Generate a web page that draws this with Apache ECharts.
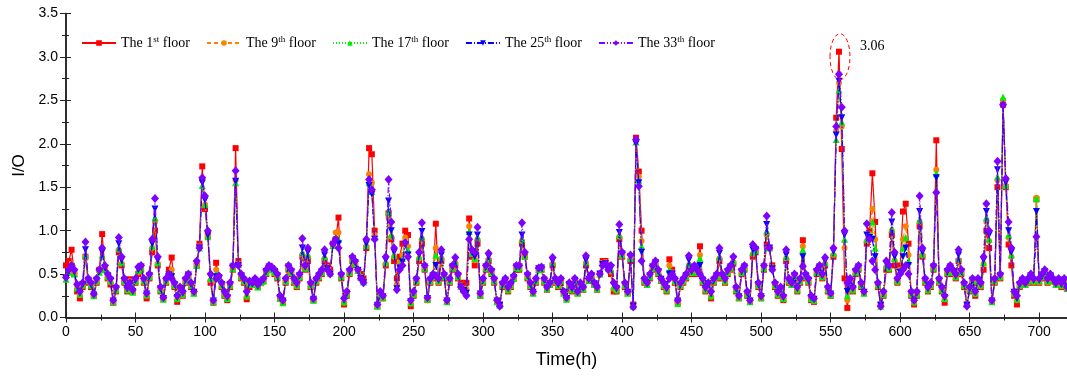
<!DOCTYPE html>
<html><head><meta charset="utf-8">
<script src="https://cdn.jsdelivr.net/npm/echarts@6/dist/echarts.min.js"></script>
<style>html,body{margin:0;padding:0;background:#fff}#c{width:1067px;height:376px}</style>
</head><body><div id="c"></div>
<script>
// sampling step of the time series (hours)
const STEP_H = 2;
const xTicks = {min: 0, max: 720, interval: 50};
const yTicks = {min: 0, max: 3.5, interval: 0.5};
const seriesNames = ['The 1st floor','The 9th floor','The 17th floor','The 25th floor','The 33th floor'];

const floor1 = [
0.60,0.65,0.78,0.50,0.30,0.22,0.35,0.70,0.40,0.35,
0.25,0.40,0.55,0.96,0.55,0.45,0.38,0.17,0.30,0.75,
0.60,0.40,0.30,0.44,0.30,0.40,0.50,0.55,0.40,0.22,
0.45,0.75,1.00,0.60,0.30,0.22,0.40,0.55,0.69,0.35,
0.18,0.30,0.25,0.40,0.48,0.35,0.28,0.60,0.85,1.74,
1.25,0.94,0.40,0.17,0.63,0.45,0.35,0.25,0.20,0.35,
0.55,1.95,0.65,0.45,0.40,0.21,0.35,0.38,0.40,0.35,
0.40,0.42,0.50,0.55,0.55,0.50,0.45,0.22,0.18,0.40,
0.55,0.50,0.40,0.35,0.45,0.70,0.55,0.65,0.35,0.20,
0.40,0.45,0.50,0.65,0.60,0.55,0.85,0.90,1.15,0.45,
0.15,0.25,0.50,0.65,0.60,0.55,0.50,0.45,0.80,1.95,
1.88,1.00,0.13,0.25,0.22,0.60,1.20,0.90,0.65,0.45,
0.70,0.85,1.00,0.95,0.13,0.25,0.40,0.65,0.85,0.55,
0.20,0.40,0.45,1.08,0.40,0.65,0.45,0.18,0.40,0.55,
0.60,0.45,0.40,0.35,0.40,1.14,0.70,0.60,0.85,0.25,
0.40,0.55,0.65,0.50,0.40,0.18,0.15,0.35,0.40,0.30,
0.35,0.45,0.55,0.55,0.85,0.70,0.45,0.35,0.28,0.40,
0.55,0.55,0.40,0.32,0.38,0.60,0.40,0.35,0.40,0.28,
0.22,0.35,0.30,0.40,0.28,0.35,0.32,0.60,0.42,0.45,
0.38,0.32,0.50,0.65,0.65,0.60,0.50,0.30,0.30,0.90,
0.70,0.35,0.28,0.65,0.15,2.07,1.68,1.00,0.40,0.38,
0.45,0.55,0.60,0.50,0.42,0.35,0.30,0.67,0.55,0.40,
0.17,0.35,0.40,0.45,0.55,0.50,0.55,0.50,0.82,0.40,
0.30,0.38,0.22,0.40,0.45,0.65,0.45,0.40,0.50,0.55,
0.62,0.30,0.22,0.50,0.55,0.25,0.18,0.70,0.75,0.35,
0.22,0.55,0.84,0.80,0.60,0.35,0.25,0.30,0.20,0.65,
0.40,0.38,0.45,0.30,0.40,0.89,0.45,0.40,0.20,0.18,
0.50,0.55,0.45,0.60,0.30,0.25,0.70,2.30,3.06,1.94,
0.45,0.11,0.40,0.30,0.50,0.55,0.35,0.28,0.85,1.00,
1.66,1.10,0.35,0.15,0.25,0.55,0.55,0.95,0.60,0.40,
0.60,1.22,1.31,0.85,0.25,0.15,0.25,1.05,0.70,0.40,
0.30,0.35,0.55,2.04,0.40,0.30,0.17,0.50,0.55,0.50,
0.45,0.65,0.50,0.35,0.15,0.30,0.40,0.25,0.40,0.35,
0.55,1.00,0.80,0.18,0.40,1.50,0.45,2.45,1.50,0.84,
0.60,0.25,0.15,0.35,0.40,0.38,0.40,0.45,0.40,1.36,
0.40,0.45,0.50,0.40,0.45,0.42,0.38,0.40,0.35,0.40,
0.33];

const floor9 = [
0.47,0.55,0.62,0.51,0.34,0.26,0.37,0.70,0.42,0.37,
0.25,0.41,0.53,0.80,0.56,0.46,0.41,0.18,0.31,0.78,
0.62,0.41,0.31,0.42,0.29,0.41,0.52,0.56,0.41,0.25,
0.46,0.80,1.10,0.62,0.31,0.21,0.41,0.50,0.55,0.36,
0.21,0.31,0.26,0.41,0.48,0.36,0.28,0.60,0.82,1.58,
1.30,0.94,0.43,0.18,0.55,0.45,0.36,0.26,0.21,0.36,
0.55,1.58,0.62,0.46,0.41,0.24,0.37,0.38,0.41,0.35,
0.40,0.41,0.51,0.56,0.55,0.51,0.46,0.21,0.17,0.41,
0.56,0.51,0.41,0.36,0.46,0.72,0.56,0.70,0.36,0.20,
0.41,0.46,0.51,0.68,0.58,0.52,0.85,0.98,0.98,0.46,
0.17,0.26,0.51,0.66,0.61,0.54,0.47,0.42,0.82,1.65,
1.55,0.95,0.13,0.26,0.22,0.62,1.15,0.93,0.70,0.38,
0.63,0.72,0.92,0.82,0.16,0.26,0.41,0.68,0.90,0.56,
0.20,0.41,0.46,0.80,0.41,0.68,0.46,0.18,0.41,0.56,
0.63,0.46,0.37,0.33,0.33,1.05,0.73,0.66,0.90,0.26,
0.41,0.56,0.67,0.51,0.41,0.18,0.14,0.36,0.41,0.31,
0.36,0.45,0.56,0.56,0.88,0.70,0.46,0.36,0.28,0.41,
0.55,0.55,0.41,0.33,0.38,0.62,0.41,0.36,0.41,0.28,
0.21,0.36,0.31,0.41,0.28,0.36,0.33,0.63,0.43,0.46,
0.38,0.33,0.50,0.63,0.64,0.58,0.53,0.33,0.31,0.93,
0.71,0.36,0.28,0.67,0.14,2.04,1.62,0.88,0.41,0.38,
0.46,0.56,0.61,0.51,0.43,0.36,0.31,0.60,0.52,0.41,
0.17,0.36,0.41,0.46,0.60,0.51,0.56,0.51,0.72,0.41,
0.31,0.38,0.24,0.41,0.46,0.68,0.46,0.41,0.51,0.56,
0.64,0.31,0.23,0.51,0.56,0.26,0.18,0.73,0.76,0.36,
0.23,0.56,0.95,0.80,0.58,0.36,0.26,0.31,0.21,0.68,
0.41,0.38,0.46,0.31,0.41,0.82,0.46,0.41,0.21,0.19,
0.51,0.56,0.46,0.62,0.31,0.26,0.72,2.15,2.70,2.20,
0.80,0.20,0.41,0.31,0.51,0.56,0.36,0.28,0.88,0.96,
1.25,0.90,0.36,0.14,0.26,0.58,0.56,1.00,0.66,0.41,
0.55,0.90,1.05,0.72,0.26,0.17,0.26,1.10,0.72,0.41,
0.31,0.36,0.56,1.70,0.41,0.31,0.21,0.51,0.56,0.51,
0.46,0.66,0.51,0.36,0.15,0.31,0.41,0.27,0.41,0.36,
0.62,1.10,0.88,0.18,0.41,1.58,0.46,2.50,1.52,0.92,
0.70,0.27,0.20,0.36,0.41,0.38,0.41,0.46,0.41,1.38,
0.41,0.46,0.51,0.41,0.46,0.41,0.38,0.41,0.36,0.41,
0.33];

const floor17 = [
0.44,0.52,0.57,0.50,0.34,0.27,0.37,0.72,0.42,0.37,
0.25,0.42,0.52,0.72,0.55,0.47,0.42,0.18,0.32,0.80,
0.63,0.42,0.32,0.40,0.29,0.42,0.54,0.57,0.42,0.26,
0.47,0.82,1.15,0.63,0.32,0.21,0.42,0.48,0.50,0.37,
0.22,0.32,0.27,0.42,0.48,0.37,0.28,0.60,0.80,1.52,
1.30,0.93,0.45,0.18,0.50,0.45,0.37,0.27,0.22,0.37,
0.56,1.55,0.61,0.47,0.42,0.25,0.39,0.38,0.42,0.35,
0.40,0.42,0.52,0.57,0.55,0.52,0.47,0.22,0.17,0.42,
0.57,0.52,0.42,0.37,0.47,0.75,0.57,0.72,0.37,0.20,
0.42,0.47,0.52,0.70,0.57,0.51,0.83,0.92,0.90,0.47,
0.18,0.27,0.52,0.67,0.62,0.54,0.46,0.41,0.83,1.55,
1.45,0.92,0.13,0.27,0.23,0.64,1.22,0.95,0.72,0.35,
0.60,0.68,0.88,0.78,0.17,0.27,0.42,0.70,0.93,0.57,
0.21,0.42,0.47,0.72,0.42,0.70,0.47,0.18,0.42,0.57,
0.64,0.47,0.36,0.32,0.30,0.99,0.74,0.68,0.92,0.26,
0.42,0.57,0.68,0.52,0.42,0.18,0.14,0.37,0.42,0.32,
0.37,0.45,0.57,0.57,0.90,0.71,0.47,0.37,0.28,0.42,
0.55,0.56,0.42,0.33,0.38,0.63,0.42,0.37,0.42,0.28,
0.21,0.37,0.32,0.42,0.28,0.37,0.33,0.64,0.43,0.47,
0.38,0.33,0.50,0.62,0.63,0.57,0.55,0.35,0.32,0.95,
0.72,0.37,0.28,0.68,0.13,2.02,1.58,0.82,0.42,0.38,
0.47,0.57,0.62,0.52,0.43,0.37,0.32,0.55,0.51,0.42,
0.16,0.37,0.42,0.47,0.62,0.52,0.57,0.52,0.68,0.42,
0.32,0.38,0.25,0.42,0.47,0.70,0.47,0.42,0.52,0.57,
0.65,0.32,0.23,0.52,0.57,0.27,0.18,0.75,0.77,0.37,
0.23,0.57,1.00,0.80,0.57,0.37,0.27,0.32,0.22,0.70,
0.42,0.38,0.47,0.32,0.42,0.78,0.47,0.42,0.22,0.20,
0.52,0.57,0.47,0.63,0.32,0.26,0.74,2.05,2.62,2.25,
0.90,0.25,0.42,0.32,0.52,0.57,0.37,0.28,0.90,0.94,
1.10,0.80,0.37,0.13,0.27,0.60,0.57,1.02,0.68,0.42,
0.53,0.80,0.92,0.65,0.27,0.18,0.27,1.12,0.73,0.42,
0.32,0.37,0.57,1.66,0.42,0.32,0.22,0.52,0.57,0.52,
0.47,0.68,0.52,0.37,0.15,0.32,0.42,0.28,0.42,0.37,
0.63,1.15,0.90,0.18,0.42,1.62,0.47,2.54,1.52,0.95,
0.72,0.28,0.21,0.37,0.42,0.38,0.42,0.47,0.42,1.37,
0.42,0.47,0.52,0.42,0.47,0.42,0.38,0.42,0.37,0.42,
0.34];

const floor25 = [
0.45,0.53,0.58,0.52,0.36,0.28,0.38,0.78,0.43,0.38,
0.26,0.43,0.53,0.75,0.57,0.48,0.43,0.19,0.33,0.85,
0.66,0.43,0.33,0.39,0.30,0.43,0.55,0.58,0.43,0.27,
0.48,0.85,1.25,0.66,0.33,0.22,0.43,0.49,0.47,0.38,
0.23,0.33,0.28,0.43,0.49,0.38,0.29,0.62,0.80,1.55,
1.35,0.95,0.47,0.19,0.47,0.46,0.38,0.28,0.23,0.38,
0.58,1.57,0.60,0.48,0.43,0.27,0.40,0.39,0.43,0.36,
0.41,0.43,0.53,0.58,0.56,0.53,0.48,0.23,0.19,0.43,
0.58,0.53,0.43,0.38,0.48,0.80,0.58,0.75,0.38,0.21,
0.43,0.48,0.53,0.72,0.56,0.50,0.83,0.88,0.85,0.48,
0.20,0.28,0.53,0.68,0.63,0.54,0.45,0.40,0.85,1.52,
1.42,0.90,0.14,0.28,0.24,0.66,1.34,1.00,0.75,0.33,
0.57,0.64,0.84,0.72,0.18,0.28,0.43,0.72,0.99,0.58,
0.22,0.43,0.48,0.60,0.43,0.72,0.48,0.19,0.43,0.58,
0.66,0.48,0.35,0.31,0.28,0.95,0.75,0.70,0.95,0.27,
0.43,0.58,0.70,0.53,0.43,0.19,0.14,0.38,0.43,0.33,
0.38,0.46,0.58,0.58,0.95,0.72,0.48,0.38,0.29,0.43,
0.56,0.57,0.43,0.34,0.39,0.65,0.43,0.38,0.43,0.29,
0.22,0.38,0.33,0.43,0.29,0.38,0.34,0.66,0.44,0.48,
0.39,0.34,0.50,0.61,0.62,0.56,0.57,0.37,0.33,0.98,
0.73,0.38,0.29,0.70,0.13,2.00,1.55,0.75,0.43,0.39,
0.48,0.58,0.63,0.53,0.44,0.38,0.33,0.50,0.50,0.43,
0.19,0.38,0.43,0.48,0.66,0.53,0.58,0.53,0.60,0.43,
0.33,0.39,0.27,0.43,0.48,0.74,0.48,0.43,0.53,0.58,
0.67,0.33,0.24,0.53,0.58,0.28,0.19,0.78,0.78,0.38,
0.24,0.58,1.07,0.80,0.56,0.38,0.28,0.33,0.23,0.72,
0.43,0.39,0.48,0.33,0.43,0.70,0.48,0.43,0.23,0.21,
0.53,0.58,0.48,0.65,0.33,0.27,0.76,2.10,2.72,2.30,
0.95,0.30,0.43,0.33,0.53,0.58,0.38,0.29,0.95,0.92,
0.90,0.70,0.38,0.14,0.28,0.62,0.58,1.10,0.70,0.43,
0.52,0.70,0.80,0.60,0.28,0.19,0.28,1.22,0.75,0.43,
0.33,0.38,0.58,1.61,0.43,0.33,0.23,0.53,0.58,0.53,
0.48,0.72,0.53,0.38,0.14,0.33,0.43,0.29,0.43,0.38,
0.66,1.22,0.95,0.19,0.43,1.70,0.48,2.42,1.55,1.00,
0.75,0.29,0.22,0.38,0.43,0.39,0.43,0.48,0.43,1.22,
0.43,0.48,0.53,0.43,0.48,0.43,0.39,0.43,0.38,0.43,
0.34];

const floor33 = [
0.46,0.55,0.60,0.55,0.38,0.30,0.40,0.87,0.45,0.40,
0.27,0.45,0.55,0.80,0.60,0.50,0.45,0.20,0.35,0.92,
0.70,0.45,0.35,0.40,0.32,0.45,0.58,0.60,0.45,0.28,
0.50,0.90,1.37,0.70,0.35,0.23,0.45,0.50,0.45,0.40,
0.25,0.35,0.30,0.45,0.50,0.40,0.30,0.65,0.80,1.61,
1.40,1.00,0.50,0.20,0.45,0.48,0.40,0.30,0.25,0.40,
0.60,1.69,0.60,0.50,0.45,0.30,0.42,0.40,0.45,0.38,
0.42,0.45,0.55,0.60,0.58,0.55,0.50,0.25,0.20,0.45,
0.60,0.55,0.45,0.40,0.50,0.91,0.60,0.80,0.40,0.22,
0.45,0.50,0.55,0.78,0.55,0.50,0.85,0.90,0.80,0.50,
0.22,0.30,0.55,0.70,0.65,0.55,0.45,0.40,0.90,1.59,
1.47,0.90,0.15,0.30,0.25,0.70,1.59,1.10,0.80,0.32,
0.55,0.60,0.86,0.70,0.20,0.30,0.45,0.75,1.09,0.60,
0.23,0.45,0.50,0.48,0.45,0.78,0.50,0.20,0.45,0.60,
0.69,0.50,0.35,0.30,0.25,0.90,0.78,0.75,1.04,0.28,
0.45,0.60,0.74,0.55,0.45,0.20,0.13,0.40,0.45,0.35,
0.40,0.48,0.60,0.60,1.09,0.75,0.50,0.40,0.30,0.45,
0.57,0.58,0.45,0.35,0.40,0.69,0.45,0.40,0.45,0.30,
0.23,0.40,0.35,0.45,0.30,0.40,0.35,0.71,0.45,0.50,
0.40,0.35,0.50,0.60,0.62,0.55,0.60,0.40,0.35,1.07,
0.75,0.40,0.30,0.72,0.12,2.05,1.51,0.65,0.45,0.40,
0.50,0.60,0.65,0.55,0.45,0.40,0.35,0.45,0.50,0.45,
0.20,0.40,0.45,0.50,0.71,0.55,0.60,0.55,0.50,0.45,
0.35,0.40,0.30,0.45,0.50,0.80,0.50,0.45,0.55,0.60,
0.70,0.35,0.25,0.55,0.60,0.30,0.20,0.84,0.80,0.40,
0.25,0.60,1.17,0.80,0.55,0.40,0.30,0.35,0.25,0.78,
0.45,0.40,0.50,0.35,0.45,0.59,0.50,0.45,0.25,0.22,
0.55,0.60,0.50,0.69,0.35,0.28,0.80,2.20,2.80,2.42,
1.00,0.40,0.45,0.35,0.55,0.60,0.40,0.30,1.08,0.90,
0.65,0.55,0.40,0.13,0.30,0.65,0.60,1.21,0.75,0.45,
0.50,0.55,0.60,0.50,0.30,0.20,0.30,1.40,0.80,0.45,
0.35,0.40,0.60,1.44,0.45,0.35,0.25,0.55,0.60,0.55,
0.50,0.78,0.55,0.40,0.13,0.35,0.45,0.30,0.45,0.40,
0.70,1.31,1.00,0.20,0.45,1.80,0.50,2.45,1.60,1.10,
0.80,0.30,0.25,0.40,0.45,0.40,0.45,0.50,0.45,0.93,
0.45,0.50,0.55,0.45,0.50,0.45,0.40,0.45,0.40,0.45,
0.35];

// annotated peak (1st floor)
const peakHour = 556;
const peakLabel = '3.06';

const allValues = [floor1, floor9, floor17, floor25, floor33];
const colors = ['#ff0000', '#ff8000', '#00ee00', '#0000ff', '#8000ff'];
const symbols = ['rect', 'circle', 'triangle', 'triangle', 'diamond'];
const symRot = [0, 0, 0, 180, 0];
const symSizes = [6, 6, 7, 7, [8, 9]];
const dashes = ['solid', [4, 3], [1, 2], [6, 2, 1, 2], [6, 2, 1, 2, 1, 2]];
const supMap = {'The 1st floor':['The 1','st'],'The 9th floor':['The 9','th'],'The 17th floor':['The 17','th'],'The 25th floor':['The 25','th'],'The 33th floor':['The 33','th']};

const chart = echarts.init(document.getElementById('c'), null, {renderer: 'canvas'});
const axisFont = {fontFamily: "'Liberation Sans', Arial, sans-serif", color: '#000'};
const lineCol = '#222';
const serif = "'Liberation Serif', 'Times New Roman', serif";

const series = seriesNames.map((name, k) => ({
  name, type: 'line',
  data: allValues[k].map((v, i) => [i * STEP_H, v]),
  symbol: symbols[k], symbolRotate: symRot[k], symbolSize: symSizes[k],
  showAllSymbol: true,
  itemStyle: {color: colors[k]},
  lineStyle: {color: colors[k], width: 1.2, type: dashes[k]},
  z: 2 + k,
  emphasis: {disabled: true}
}));

chart.setOption({
  animation: false,
  backgroundColor: '#fff',
  grid: {left: 66, top: 13.5, width: 1002, height: 304},
  legend: {
    left: 76, top: 30, itemWidth: 34, itemHeight: 7, itemGap: 16,
    data: seriesNames.map((n, k) => ({name: n, itemStyle: {color: colors[k]}})),
    formatter: n => `{a|${supMap[n][0]}}{b|${supMap[n][1]}}{a| floor}`,
    textStyle: {
      color: '#000', fontFamily: serif, fontSize: 14,
      rich: {
        a: {fontSize: 14, lineHeight: 16, fontFamily: serif, color: '#000'},
        b: {fontSize: 9, lineHeight: 10, verticalAlign: 'top', fontFamily: serif, color: '#000'}
      }
    }
  },
  xAxis: [{
    type: 'value', ...xTicks, position: 'bottom',
    name: 'Time(h)', nameLocation: 'middle', nameGap: 34,
    nameTextStyle: {...axisFont, fontSize: 18},
    axisLine: {lineStyle: {color: lineCol, width: 1.5}},
    axisTick: {inside: true, length: 5, lineStyle: {color: lineCol}},
    minorTick: {show: true, splitNumber: 2, length: 3, lineStyle: {color: lineCol}},
    axisLabel: {...axisFont, fontSize: 14, margin: 8, showMaxLabel: false},
    splitLine: {show: false}
  }, {
    type: 'value', ...xTicks, position: 'top',
    axisLine: {lineStyle: {color: lineCol, width: 1.5}},
    axisTick: {inside: true, length: 5, lineStyle: {color: lineCol}},
    minorTick: {show: true, splitNumber: 2, length: 3, lineStyle: {color: lineCol}},
    axisLabel: {show: false}, splitLine: {show: false}
  }],
  yAxis: [{
    type: 'value', ...yTicks, position: 'left',
    name: 'I/O', nameLocation: 'middle', nameGap: 38, nameRotate: 90,
    nameTextStyle: {...axisFont, fontSize: 17},
    axisLine: {show: true, lineStyle: {color: lineCol, width: 1.5}},
    axisTick: {show: true, inside: true, length: 5, lineStyle: {color: lineCol}},
    minorTick: {show: true, splitNumber: 2, length: 3, lineStyle: {color: lineCol}},
    axisLabel: {...axisFont, fontSize: 14, margin: 8, formatter: v => v.toFixed(1)},
    splitLine: {show: false}
  }, {
    type: 'value', ...yTicks, position: 'right',
    axisLine: {show: true, lineStyle: {color: lineCol, width: 1.5}},
    axisTick: {show: true, inside: true, length: 6, lineStyle: {color: lineCol}},
    minorTick: {show: true, splitNumber: 2, length: 4, lineStyle: {color: lineCol}},
    axisLabel: {show: false}, splitLine: {show: false}
  }],
  series
});

// annotation ellipse around the 1st-floor peak
const peakVal = floor1[peakHour / STEP_H];
const p = chart.convertToPixel({xAxisIndex: 0, yAxisIndex: 0}, [peakHour, peakVal]);
chart.setOption({
  graphic: [{
    type: 'ellipse', shape: {cx: p[0] + 1, cy: p[1] + 5, rx: 10, ry: 23},
    style: {fill: 'none', stroke: '#ff0000', lineWidth: 1, lineDash: [4, 3]}, z: 100
  }, {
    type: 'text', x: p[0] + 21, y: p[1] - 5,
    style: {text: peakLabel, fill: '#000', font: "14px " + serif, textVerticalAlign: 'middle'}, z: 100
  }]
});
</script></body></html>
